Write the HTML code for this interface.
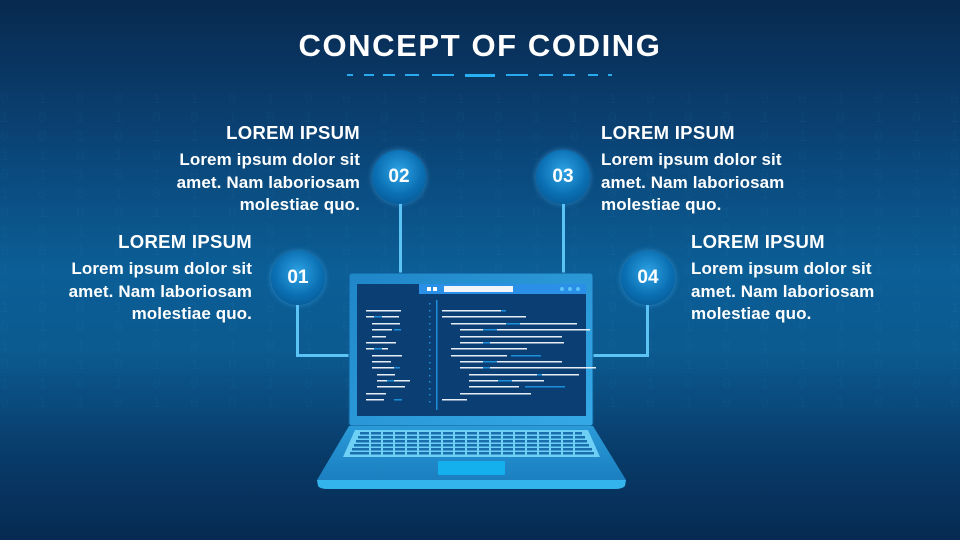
<!DOCTYPE html>
<html><head><meta charset="utf-8"><style>
*{margin:0;padding:0;box-sizing:border-box}
body{width:960px;height:540px;overflow:hidden;position:relative;font-family:"Liberation Sans",sans-serif;
background:linear-gradient(180deg,#08294f 0%,#0a3f70 22%,#0b5e96 50%,#0b5a90 65%,#083a68 85%,#062a52 100%);}
.bin{position:absolute;left:0;top:90px;width:960px;height:330px;color:rgba(120,200,255,0.045);font:15px "Liberation Mono",monospace;line-height:19px;letter-spacing:10px;white-space:pre;overflow:hidden}
.t{position:absolute;color:#fff;font-weight:bold}
h1{position:absolute;left:0;width:960px;top:28px;text-align:center;color:#fff;font-size:31px;font-weight:900;letter-spacing:1.6px}
.h{font-size:18.5px;letter-spacing:0.3px}
.p{font-size:17px;line-height:22.5px;letter-spacing:0.1px}
.r{text-align:right}
.c{position:absolute;width:54px;height:54px;border-radius:50%;background:radial-gradient(circle at 50% 40%,#2ea4e6 0%,#0a6fb2 55%,#064d86 100%);box-shadow:0 0 6px rgba(80,190,255,.5);color:#fff;font-weight:bold;font-size:19px;text-align:center;line-height:54px}
.ln{position:absolute;background:#5cc4f5}
.d{position:absolute;height:2px;background:#2aa9ee;top:74px}
</style></head><body>
<div class="bin">0 1 0 0 1 1 0 1 0 0 1 0 1 1 0 0 1 0 1 1 0 0 1 0 1 0 0 1 1 0 1 0 0 1 0 1 0 0 1 1 0 1
1 0 1 1 0 0 1 0 1 1 0 1 0 0 1 1 0 1 0 0 1 1 0 1 0 1 1 0 0 1 0 1 1 0 1 0 1 1 0 0 1 0
0 0 1 0 1 1 0 0 1 0 1 1 0 1 0 0 1 0 1 1 0 1 0 0 1 1 0 1 0 0 1 0 1 1 0 1 0 0 1 0 1 1
1 1 0 1 0 0 1 1 0 1 0 0 1 0 1 1 0 1 0 0 1 0 1 1 0 0 1 0 1 1 0 1 0 0 1 1 0 1 0 1 0 0
0 1 1 0 1 0 0 1 0 1 1 0 0 1 0 1 1 0 1 0 0 1 1 0 1 0 0 1 0 1 1 0 0 1 0 1 1 0 1 0 0 1
1 0 0 1 0 1 1 0 1 0 0 1 1 0 1 0 0 1 0 1 1 0 0 1 0 1 1 0 1 0 0 1 1 0 1 0 0 1 0 1 1 0
0 1 0 0 1 1 0 1 0 0 1 0 1 1 0 0 1 0 1 1 0 0 1 0 1 0 0 1 1 0 1 0 0 1 0 1 0 0 1 1 0 1
1 0 1 1 0 0 1 0 1 1 0 1 0 0 1 1 0 1 0 0 1 1 0 1 0 1 1 0 0 1 0 1 1 0 1 0 1 1 0 0 1 0
0 0 1 0 1 1 0 0 1 0 1 1 0 1 0 0 1 0 1 1 0 1 0 0 1 1 0 1 0 0 1 0 1 1 0 1 0 0 1 0 1 1
1 1 0 1 0 0 1 1 0 1 0 0 1 0 1 1 0 1 0 0 1 0 1 1 0 0 1 0 1 1 0 1 0 0 1 1 0 1 0 1 0 0
0 1 1 0 1 0 0 1 0 1 1 0 0 1 0 1 1 0 1 0 0 1 1 0 1 0 0 1 0 1 1 0 0 1 0 1 1 0 1 0 0 1
1 0 0 1 0 1 1 0 1 0 0 1 1 0 1 0 0 1 0 1 1 0 0 1 0 1 1 0 1 0 0 1 1 0 1 0 0 1 0 1 1 0
0 1 0 0 1 1 0 1 0 0 1 0 1 1 0 0 1 0 1 1 0 0 1 0 1 0 0 1 1 0 1 0 0 1 0 1 0 0 1 1 0 1
1 0 1 1 0 0 1 0 1 1 0 1 0 0 1 1 0 1 0 0 1 1 0 1 0 1 1 0 0 1 0 1 1 0 1 0 1 1 0 0 1 0
0 0 1 0 1 1 0 0 1 0 1 1 0 1 0 0 1 0 1 1 0 1 0 0 1 1 0 1 0 0 1 0 1 1 0 1 0 0 1 0 1 1
1 1 0 1 0 0 1 1 0 1 0 0 1 0 1 1 0 1 0 0 1 0 1 1 0 0 1 0 1 1 0 1 0 0 1 1 0 1 0 1 0 0
0 1 1 0 1 0 0 1 0 1 1 0 0 1 0 1 1 0 1 0 0 1 1 0 1 0 0 1 0 1 1 0 0 1 0 1 1 0 1 0 0 1</div>

<h1>CONCEPT OF CODING</h1>
<div class="d" style="left:347px;width:6px"></div>
<div class="d" style="left:364px;width:10px"></div>
<div class="d" style="left:383px;width:12px"></div>
<div class="d" style="left:405px;width:14px"></div>
<div class="d" style="left:432px;width:22px"></div>
<div class="d" style="left:465px;width:30px;height:3px;background:#28b0f5"></div>
<div class="d" style="left:506px;width:22px"></div>
<div class="d" style="left:539px;width:14px"></div>
<div class="d" style="left:563px;width:12px"></div>
<div class="d" style="left:588px;width:10px"></div>
<div class="d" style="left:608px;width:4px"></div>

<div class="t r" style="right:600px;top:122px;width:280px"><div class="h">LOREM IPSUM</div><div class="p" style="margin-top:5px">Lorem ipsum dolor sit<br>amet. Nam laboriosam<br>molestiae quo.</div></div>
<div class="t r" style="right:708px;top:231px;width:250px"><div class="h">LOREM IPSUM</div><div class="p" style="margin-top:5px">Lorem ipsum dolor sit<br>amet. Nam laboriosam<br>molestiae quo.</div></div>
<div class="t" style="left:601px;top:122px;width:280px"><div class="h">LOREM IPSUM</div><div class="p" style="margin-top:5px">Lorem ipsum dolor sit<br>amet. Nam laboriosam<br>molestiae quo.</div></div>
<div class="t" style="left:691px;top:231px;width:260px"><div class="h">LOREM IPSUM</div><div class="p" style="margin-top:5px">Lorem ipsum dolor sit<br>amet. Nam laboriosam<br>molestiae quo.</div></div>

<div class="ln" style="left:399px;top:200px;width:3px;height:74px"></div>
<div class="ln" style="left:562px;top:200px;width:3px;height:74px"></div>
<div class="ln" style="left:296px;top:300px;width:3px;height:57px"></div>
<div class="ln" style="left:296px;top:354px;width:54px;height:3px"></div>
<div class="ln" style="left:646px;top:300px;width:3px;height:57px"></div>
<div class="ln" style="left:593px;top:354px;width:56px;height:3px"></div>

<div class="c" style="left:271px;top:251px">01</div>
<div class="c" style="left:372px;top:150px">02</div>
<div class="c" style="left:536px;top:150px">03</div>
<div class="c" style="left:621px;top:251px">04</div>

<svg style="position:absolute;left:0;top:0" width="960" height="540">
<defs>
<linearGradient id="lid" x1="0" y1="0" x2="1" y2="1"><stop offset="0" stop-color="#1f86c8"/><stop offset="1" stop-color="#35a9e6"/></linearGradient>
<linearGradient id="base" x1="0" y1="0" x2="0" y2="1"><stop offset="0" stop-color="#2a9ad8"/><stop offset="1" stop-color="#1b7fc0"/></linearGradient>
</defs>
<rect x="349" y="273" width="244" height="153" rx="3" fill="url(#lid)" stroke="#0d5b95"/>
<rect x="357" y="284" width="229" height="132" fill="#0b3f74"/>
<rect x="419" y="284" width="167" height="10" fill="#2a8fe6"/>
<rect x="427" y="287" width="4" height="4" fill="#fff"/><rect x="433" y="287" width="4" height="4" fill="#fff"/>
<rect x="444" y="286" width="69" height="6" fill="#f1f5fa"/>
<circle cx="562" cy="289" r="2" fill="#5cc4f5"/><circle cx="570" cy="289" r="2" fill="#5cc4f5"/><circle cx="578" cy="289" r="2" fill="#5cc4f5"/>
<rect x="436" y="300" width="1.5" height="110" fill="#1d8fd8"/>
<path d="M349 426 L593 426 L626 480 L317 480 Z" fill="url(#base)"/>
<path d="M317 480 L626 480 L625 486 Q622 489 615 489 L328 489 Q320 489 318 486 Z" fill="#33b4ec"/>
<path d="M355 430 L588 430 L600 457 L343 457 Z" fill="#6fd0f5"/>
<rect x="438" y="461" width="67" height="14" rx="1" fill="#14b0ee"/>
<g fill="#1a6fae">
<rect x="360" y="432" width="222" height="2.5"/>
<rect x="358" y="436" width="227" height="2.5"/>
<rect x="356" y="440" width="231" height="2.5"/>
<rect x="354" y="444" width="235" height="2.5"/>
<rect x="352" y="448" width="240" height="2.5"/>
<rect x="350" y="452" width="244" height="2.5"/>
</g>
<g stroke="#6fd0f5" stroke-width="2">
<path d="M370 431 V456 M382 431 V456 M394 431 V456 M406 431 V456 M418 431 V456 M430 431 V456 M442 431 V456 M454 431 V456 M466 431 V456 M478 431 V456 M490 431 V456 M502 431 V456 M514 431 V456 M526 431 V456 M538 431 V456 M550 431 V456 M562 431 V456 M574 431 V456"/>
</g>
<g fill="#1d8fd8"><rect x="429" y="303" width="1.5" height="1.5"/><rect x="429" y="310" width="1.5" height="1.5"/><rect x="429" y="316" width="1.5" height="1.5"/><rect x="429" y="323" width="1.5" height="1.5"/><rect x="429" y="329" width="1.5" height="1.5"/><rect x="429" y="336" width="1.5" height="1.5"/><rect x="429" y="342" width="1.5" height="1.5"/><rect x="429" y="349" width="1.5" height="1.5"/><rect x="429" y="355" width="1.5" height="1.5"/><rect x="429" y="362" width="1.5" height="1.5"/><rect x="429" y="368" width="1.5" height="1.5"/><rect x="429" y="375" width="1.5" height="1.5"/><rect x="429" y="381" width="1.5" height="1.5"/><rect x="429" y="388" width="1.5" height="1.5"/><rect x="429" y="394" width="1.5" height="1.5"/><rect x="429" y="401" width="1.5" height="1.5"/></g>
<g fill="#e8eef5">
<rect x="366" y="310" width="35" height="1.5"/>
<rect x="366" y="316" width="33" height="1.5"/>
<rect x="372" y="323" width="28" height="1.5"/>
<rect x="372" y="329" width="20" height="1.5"/>
<rect x="372" y="336" width="14" height="1.5"/>
<rect x="366" y="342" width="30" height="1.5"/>
<rect x="366" y="348" width="22" height="1.5"/>
<rect x="372" y="355" width="30" height="1.5"/>
<rect x="372" y="361" width="19" height="1.5"/>
<rect x="372" y="367" width="22" height="1.5"/>
<rect x="377" y="374" width="18" height="1.5"/>
<rect x="377" y="380" width="33" height="1.5"/>
<rect x="377" y="386" width="28" height="1.5"/>
<rect x="366" y="393" width="20" height="1.5"/>
<rect x="366" y="399" width="18" height="1.5"/>
<rect x="442" y="310" width="60" height="1.5"/>
<rect x="442" y="316" width="84" height="1.5"/>
<rect x="451" y="323" width="126" height="1.5"/>
<rect x="460" y="329" width="130" height="1.5"/>
<rect x="460" y="336" width="102" height="1.5"/>
<rect x="460" y="342" width="104" height="1.5"/>
<rect x="451" y="348" width="76" height="1.5"/>
<rect x="451" y="355" width="56" height="1.5"/>
<rect x="460" y="361" width="102" height="1.5"/>
<rect x="460" y="367" width="136" height="1.5"/>
<rect x="469" y="374" width="110" height="1.5"/>
<rect x="469" y="380" width="75" height="1.5"/>
<rect x="469" y="386" width="50" height="1.5"/>
<rect x="460" y="393" width="71" height="1.5"/>
<rect x="442" y="399" width="25" height="1.5"/>
</g>
<g fill="#1d8fd8">
<rect x="374" y="316" width="8" height="1.5"/><rect x="394" y="329" width="7" height="1.5"/><rect x="374" y="348" width="8" height="1.5"/><rect x="394" y="367" width="6" height="1.5"/><rect x="387" y="380" width="7" height="1.5"/><rect x="394" y="399" width="8" height="1.5"/>
<rect x="501" y="310" width="5" height="1.5"/><rect x="506" y="323" width="14" height="1.5"/><rect x="483" y="329" width="14" height="1.5"/><rect x="483" y="342" width="7" height="1.5"/><rect x="511" y="355" width="30" height="1.5"/><rect x="483" y="361" width="14" height="1.5"/><rect x="483" y="367" width="7" height="1.5"/><rect x="537" y="374" width="5" height="1.5"/><rect x="498" y="380" width="14" height="1.5"/><rect x="525" y="386" width="40" height="1.5"/>
</g>
</svg>
</body></html>
